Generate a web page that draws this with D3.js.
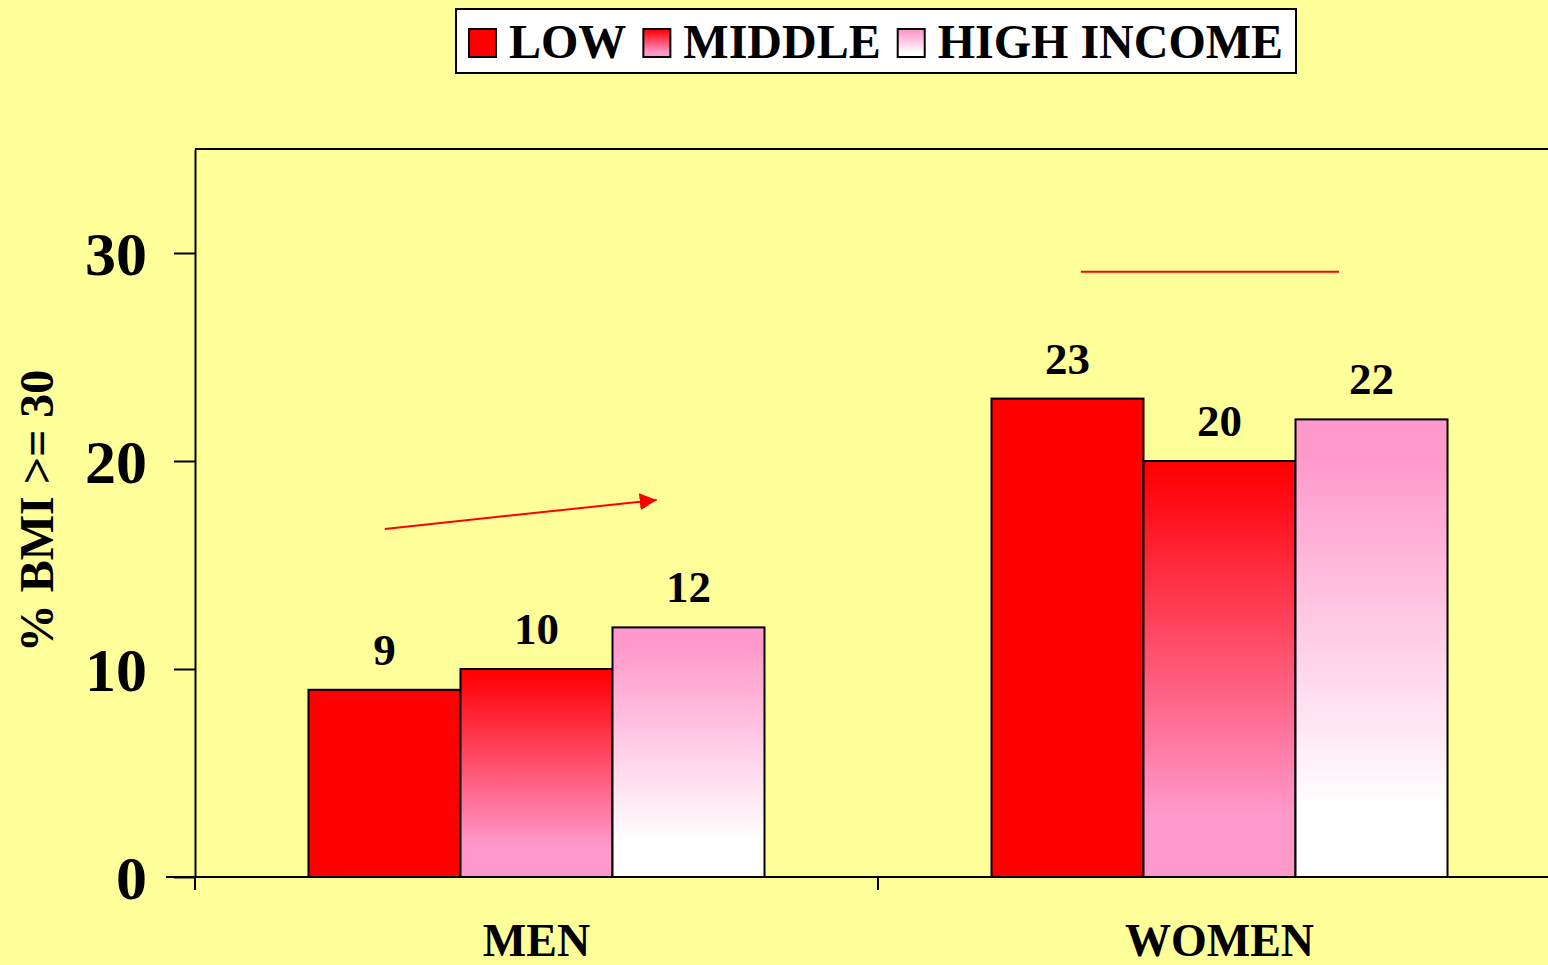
<!DOCTYPE html>
<html>
<head>
<meta charset="utf-8">
<script src="https://cdn.jsdelivr.net/npm/d3@7"></script>
<style>
  html, body { margin: 0; padding: 0; background: #FFFF99; }
  svg { display: block; }
  text { font-family: "Liberation Serif", "Times New Roman", serif; font-weight: bold; }
</style>
</head>
<body>
<div id="chart"></div>
<script>
// data
var categories = ["MEN", "WOMEN"];
var series = ["LOW", "MIDDLE", "HIGH INCOME"];
var lowIncome = [9, 23];
var middleIncome = [10, 20];
var highIncome = [12, 22];
var yTicks = [0, 10, 20, 30];
var yTitle = "% BMI >= 30";

var width = 1548, height = 965;
var svg = d3.select("#chart").append("svg")
    .attr("width", width)
    .attr("height", height);

svg.append("rect").attr("width", width).attr("height", height).attr("fill", "#FFFF99");

// gradients
var defs = svg.append("defs");
var gMid = defs.append("linearGradient").attr("id", "gradMid")
    .attr("x1", 0).attr("y1", 0).attr("x2", 0).attr("y2", 1);
gMid.append("stop").attr("offset", "0").attr("stop-color", "#FF0000");
gMid.append("stop").attr("offset", "0.08").attr("stop-color", "#FF0A12");
gMid.append("stop").attr("offset", "0.85").attr("stop-color", "#FF99CC");
gMid.append("stop").attr("offset", "1").attr("stop-color", "#FF99CC");
var gHigh = defs.append("linearGradient").attr("id", "gradHigh")
    .attr("x1", 0).attr("y1", 0).attr("x2", 0).attr("y2", 1);
gHigh.append("stop").attr("offset", "0").attr("stop-color", "#FF99CC");
gHigh.append("stop").attr("offset", "0.08").attr("stop-color", "#FF99CC");
gHigh.append("stop").attr("offset", "0.85").attr("stop-color", "#FFFFFF");
gHigh.append("stop").attr("offset", "1").attr("stop-color", "#FFFFFF");
var fills = ["#FF0000", "url(#gradMid)", "url(#gradHigh)"];

// scales
var x0 = d3.scaleBand().domain(categories).range([195, 1561]);
var x1 = d3.scaleBand().domain(series).range([113.5, x0.bandwidth() - 113.5]);
var y = d3.scaleLinear().domain([0, 35]).range([877, 149]);

// flatten data
var rows = [];
categories.forEach(function (c, i) {
    [lowIncome[i], middleIncome[i], highIncome[i]].forEach(function (v, j) {
        rows.push({ cat: c, ser: series[j], value: v, fill: fills[j] });
    });
});

// frame: top line
svg.append("line")
    .attr("x1", x0.range()[0]).attr("x2", width)
    .attr("y1", y(35)).attr("y2", y(35))
    .attr("stroke", "#000").attr("stroke-width", 2);

// bars
svg.selectAll("rect.bar")
    .data(rows)
    .enter().append("rect")
    .attr("class", "bar")
    .attr("x", function (d) { return x0(d.cat) + x1(d.ser); })
    .attr("y", function (d) { return y(d.value); })
    .attr("width", x1.bandwidth())
    .attr("height", function (d) { return y(0) - y(d.value); })
    .attr("fill", function (d) { return d.fill; })
    .attr("stroke", "#000")
    .attr("stroke-width", 2);

// value labels
svg.selectAll("text.val")
    .data(rows)
    .enter().append("text")
    .attr("class", "val")
    .attr("x", function (d) { return x0(d.cat) + x1(d.ser) + x1.bandwidth() / 2; })
    .attr("y", function (d) { return y(d.value) - 25; })
    .attr("text-anchor", "middle")
    .attr("font-size", 45)
    .text(function (d) { return d.value; });

// y axis
var yAxis = svg.append("g")
    .attr("transform", "translate(" + x0.range()[0] + ",0)")
    .call(d3.axisLeft(y).tickValues(yTicks).tickSize(21).tickSizeOuter(0).tickPadding(27));
yAxis.select(".domain").attr("stroke-width", 2);
yAxis.selectAll(".tick line").attr("stroke-width", 2);
yAxis.selectAll(".tick text")
    .attr("font-size", 62)
    .attr("font-family", "Liberation Serif, Times New Roman, serif")
    .attr("font-weight", "bold")
    .attr("fill", "#000")
    .attr("dy", "0.34em");

// x axis baseline and ticks at band boundaries
svg.append("line")
    .attr("x1", 166).attr("x2", width)
    .attr("y1", y(0)).attr("y2", y(0))
    .attr("stroke", "#000").attr("stroke-width", 2);
var bounds = categories.map(function (c) { return x0(c); }).concat([x0.range()[1]]);
svg.selectAll("line.xtick")
    .data(bounds)
    .enter().append("line")
    .attr("class", "xtick")
    .attr("x1", function (d) { return d; }).attr("x2", function (d) { return d; })
    .attr("y1", y(0)).attr("y2", y(0) + 13)
    .attr("stroke", "#000").attr("stroke-width", 2);
svg.selectAll("text.xlab")
    .data(categories)
    .enter().append("text")
    .attr("class", "xlab")
    .attr("x", function (d) { return x0(d) + x0.bandwidth() / 2; })
    .attr("y", 956)
    .attr("text-anchor", "middle")
    .attr("font-size", 46)
    .text(function (d) { return d; });

// y title
svg.append("text")
    .attr("transform", "translate(53," + 511 + ") rotate(-90)")
    .attr("text-anchor", "middle")
    .attr("font-size", 48)
    .text(yTitle);

// annotations: rising arrow over men, flat line over women
defs.append("marker")
    .attr("id", "arrowHead")
    .attr("viewBox", "0 0 10 10")
    .attr("refX", 10).attr("refY", 5)
    .attr("markerWidth", 8.5).attr("markerHeight", 8.5)
    .attr("markerUnits", "strokeWidth")
    .attr("orient", "auto")
    .append("path").attr("d", "M0,0 L10,5 L0,10 Z").attr("fill", "#FF0000");

var bw = x0.bandwidth();
svg.append("line")
    .attr("x1", x0("MEN") + bw * 0.278).attr("y1", y(16.73))
    .attr("x2", x0("MEN") + bw * 0.676).attr("y2", y(18.13))
    .attr("stroke", "#FF0000").attr("stroke-width", 2)
    .attr("marker-end", "url(#arrowHead)");
svg.append("line")
    .attr("x1", x0("WOMEN") + bw * 0.297).attr("y1", y(29.1))
    .attr("x2", x0("WOMEN") + bw * 0.675).attr("y2", y(29.1))
    .attr("stroke", "#FF0000").attr("stroke-width", 2);

// legend
var legend = svg.append("g");
legend.append("rect")
    .attr("x", 456).attr("y", 9).attr("width", 840).attr("height", 64)
    .attr("fill", "#FFFFFF").attr("stroke", "#000").attr("stroke-width", 2);
var lx = 469;
series.forEach(function (s, i) {
    legend.append("rect")
        .attr("x", lx).attr("y", 29).attr("width", 27).attr("height", 28)
        .attr("fill", fills[i]).attr("stroke", "#000").attr("stroke-width", 2);
    var t = legend.append("text")
        .attr("x", lx + 40).attr("y", 58)
        .attr("font-size", 48)
        .text(s);
    lx = lx + 40 + t.node().getComputedTextLength() + 17;
});
</script>
</body>
</html>
